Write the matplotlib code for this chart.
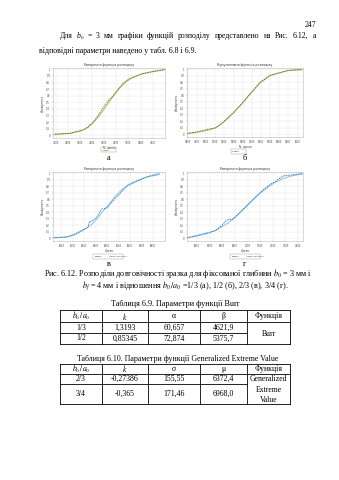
import matplotlib
matplotlib.use("Agg")
import matplotlib.pyplot as plt
from matplotlib.lines import Line2D
from matplotlib.patches import Rectangle

plt.rcParams['font.family'] = ['Liberation Serif', 'DejaVu Serif']
plt.rcParams['mathtext.fontset'] = 'stix'

W, H = 339, 480

# ---- data -------------------------------------------------------------
# panel a: b0/a0 = 1/3 (Burr)
a_emp_x = [4092, 4216, 4271, 4326, 4368, 4409, 4450, 4492, 4533, 4574, 4616, 4657, 4699, 4754, 4809, 4892, 5002]
a_emp_y = [0.02, 0.03, 0.06, 0.08, 0.13, 0.20, 0.30, 0.42, 0.52, 0.60, 0.70, 0.79, 0.85, 0.89, 0.93, 0.96, 1.00]
a_fit_x = [4092, 4216, 4300, 4368, 4420, 4470, 4520, 4570, 4620, 4680, 4740, 4810, 4900, 5002]
a_fit_y = [0.01, 0.03, 0.06, 0.12, 0.21, 0.32, 0.45, 0.58, 0.70, 0.81, 0.88, 0.93, 0.97, 0.99]
a_xticks = [4100, 4200, 4300, 4400, 4500, 4600, 4700, 4800, 4900]
a_xlim = (4078, 5002)

# panel b: b0/a0 = 1/2 (Burr)
b_emp_x = [4790, 4900, 5010, 5100, 5150, 5210, 5300, 5390, 5480, 5590, 5700, 5810, 5900, 6050]
b_emp_y = [0.015, 0.04, 0.075, 0.10, 0.14, 0.22, 0.34, 0.47, 0.62, 0.80, 0.91, 0.95, 0.985, 1.00]
b_fit_x = [4790, 4900, 5010, 5100, 5200, 5300, 5390, 5480, 5590, 5700, 5810, 5900, 6050]
b_fit_y = [0.01, 0.03, 0.06, 0.10, 0.20, 0.33, 0.47, 0.62, 0.79, 0.90, 0.95, 0.98, 0.99]
b_xticks = [4800, 4900, 5000, 5100, 5200, 5300, 5400, 5500, 5600, 5700, 5800, 5900, 6000]
b_xlim = (4790, 6060)

# panel c: b0/a0 = 2/3 (Generalized Extreme Value)
c_emp_x = [5935, 6049, 6107, 6165, 6230, 6245, 6270, 6310, 6350, 6400, 6450, 6510, 6570, 6660, 6750, 6855]
c_emp_y = [0.01, 0.025, 0.06, 0.11, 0.17, 0.26, 0.27, 0.33, 0.45, 0.47, 0.58, 0.69, 0.80, 0.88, 0.95, 1.00]
c_fit_x = [5935, 6049, 6107, 6165, 6223, 6267, 6310, 6368, 6426, 6470, 6528, 6586, 6673, 6760, 6855]
c_fit_y = [0.01, 0.02, 0.05, 0.10, 0.16, 0.22, 0.30, 0.43, 0.55, 0.65, 0.75, 0.83, 0.90, 0.95, 0.98]
c_xticks = [6000, 6100, 6200, 6300, 6400, 6500, 6600, 6700, 6800]
c_xlim = (5927, 6902)

# panel d: b0/a0 = 3/4 (Generalized Extreme Value)
d_emp_x = [6521, 6587, 6692, 6745, 6797, 6830, 6850, 6875, 6902, 6955, 7007, 7086, 7164, 7217, 7282, 7350, 7439]
d_emp_y = [0.01, 0.04, 0.09, 0.12, 0.20, 0.27, 0.29, 0.29, 0.33, 0.43, 0.53, 0.68, 0.81, 0.87, 0.96, 0.975, 1.00]
d_fit_x = [6521, 6587, 6692, 6745, 6797, 6850, 6902, 6955, 7007, 7086, 7164, 7217, 7282, 7350, 7439]
d_fit_y = [0.01, 0.03, 0.08, 0.12, 0.18, 0.24, 0.32, 0.42, 0.52, 0.67, 0.79, 0.86, 0.92, 0.96, 0.99]
d_xticks = [6600, 6700, 6800, 6900, 7000, 7100, 7200, 7300, 7400]
d_xlim = (6521, 7439)

yticks = [0, 0.1, 0.2, 0.3, 0.4, 0.5, 0.6, 0.7, 0.8, 0.9, 1]

# table values
t1_ratio = ["1/3", "1/2"]
t1_k = ["1,3193", "0,85345"]
t1_alpha = ["60,657", "72,874"]
t1_beta = ["4621,9", "5375,7"]

t2_ratio = ["2/3", "3/4"]
t2_k = ["-0,27386", "-0,365"]
t2_sigma = ["155,55", "171,46"]
t2_mu = ["6372,4", "6968,0"]

# ---- helpers ----------------------------------------------------------
fig = plt.figure(figsize=(W / 100, H / 100), dpi=100)
fig.patch.set_facecolor('white')
renderer = fig.canvas.get_renderer()


def fx(x):
    return x / W


def fy(y):
    return 1 - y / H


def ftext(x, y, s, size=6.0, ha='center', va='center', **kw):
    return fig.text(fx(x), fy(y), s, fontsize=size, ha=ha, va=va, **kw)


def justified(x0, x1, y, words, size):
    """Lay out words on one line so that they fill x0..x1 exactly (y = baseline).
    A word given as a (base, subscript) pair is set in italic with a subscript."""
    groups = []
    for w in words:
        if isinstance(w, tuple):
            base = ftext(0, y, w[0], size=size, ha='left', va='baseline', style='italic')
            sub = ftext(0, y + 1.5, w[1], size=size * 0.65, ha='left', va='baseline')
            wb = base.get_window_extent(renderer).width
            ws = sub.get_window_extent(renderer).width
            groups.append(([(base, 0.0), (sub, wb)], wb + ws))
        else:
            t = ftext(0, y, w, size=size, ha='left', va='baseline')
            groups.append(([(t, 0.0)], t.get_window_extent(renderer).width))
    gap = (x1 - x0 - sum(g[1] for g in groups)) / (len(groups) - 1)
    x = x0
    for parts, width in groups:
        for art, off in parts:
            art.set_x(fx(x + off))
        x += width + gap


def hline(y, x0, x1, lw=0.6):
    fig.add_artist(Line2D([fx(x0), fx(x1)], [fy(y), fy(y)], color='black', lw=lw))


def vline(x, y0, y1, lw=0.6):
    fig.add_artist(Line2D([fx(x), fx(x)], [fy(y0), fy(y1)], color='black', lw=lw))


def panel(rect, ex, ey, px, py, xticks, xlim, title, xlabel, c_emp, c_fit, legend_w, legend_c, letter, two_entries):
    l, t, r, b = rect
    ax = fig.add_axes([fx(l), fy(b), (r - l) / W, (b - t) / H])
    ax.plot(px, py, color=c_fit, lw=0.7)
    ax.plot(ex, ey, color=c_emp, lw=0.6, ls=(0, (2, 1)))
    ax.set_xlim(*xlim)
    ax.set_ylim(-0.04, 1.02)
    ax.set_xticks(xticks)
    ax.set_yticks(yticks)
    ax.set_xticklabels([str(v) for v in xticks], fontsize=1.8, family='DejaVu Sans', color='#444444')
    ax.set_yticklabels([f"{v:g}" for v in yticks], fontsize=1.8, family='DejaVu Sans', color='#444444')
    ax.tick_params(length=1, width=0.3, pad=1, colors='#888888', labelcolor='#444444')
    ax.grid(True, color='#e6e6e6', lw=0.3)
    for s in ax.spines.values():
        s.set_color('#bbbbbb')
        s.set_linewidth(0.4)
    ax.set_title(title, fontsize=2.3, family='DejaVu Sans', pad=1.5, color='#333333')
    ax.set_xlabel(xlabel, fontsize=2.0, family='DejaVu Sans', labelpad=0.8, color='#444444')
    ax.set_ylabel("Ймовірність", fontsize=2.0, family='DejaVu Sans', labelpad=1.0, color='#444444')
    # legend box below the axes
    lx, ly = legend_c
    fig.add_artist(Rectangle((fx(lx - legend_w / 2), fy(ly + 2.5)), legend_w / W, 5 / H,
                             fill=False, ec='#999999', lw=0.3))
    if two_entries:
        fig.add_artist(Line2D([fx(lx - legend_w / 2 + 1.5), fx(lx - legend_w / 2 + 4)], [fy(ly), fy(ly)],
                              color=c_emp, lw=0.5))
        ftext(lx - legend_w / 2 + 4.5, ly, "Дані", size=1.6, ha='left', family='DejaVu Sans', color='#444444')
        fig.add_artist(Line2D([fx(lx + 0.5), fx(lx + 3)], [fy(ly), fy(ly)], color=c_fit, lw=0.5))
        ftext(lx + 3.5, ly, "GEV розподіл", size=1.6, ha='left', family='DejaVu Sans', color='#444444')
    else:
        fig.add_artist(Line2D([fx(lx - legend_w / 2 + 1.5), fx(lx - legend_w / 2 + 4)], [fy(ly), fy(ly)],
                              color=c_fit, lw=0.5))
        ftext(lx - legend_w / 2 + 4.5, ly, "Burr", size=1.6, ha='left', family='DejaVu Sans', color='#444444')
    ftext((l + r) / 2, letter[1], letter[0], size=6.0)
    return ax


# ---- page text --------------------------------------------------------
ftext(316, 25, "247", size=5.6, ha='right')
justified(60, 316, 37.5,
          ["Для", ("b", "0"), "=", "3", "мм", "графіки", "функцій", "розподілу", "представлено",
           "на", "Рис.", "6.12,", "а"], size=5.6)
ftext(39, 53, "відповідні параметри наведено у табл. 6.8 і 6.9.", size=5.6, ha='left', va='baseline')

# ---- charts -----------------------------------------------------------
grey, lime = '#666666', '#a8cc3a'
blue, lblue = '#2c7fb8', '#8cc0e0'

panel((53, 68, 165, 138), a_emp_x, a_emp_y, a_fit_x, a_fit_y, a_xticks, a_xlim,
      "Емпірична функція розподілу", "N, цикли", grey, lime, 15, (108, 150), ("а", 158), False)
panel((187, 68, 303, 137), b_emp_x, b_emp_y, b_fit_x, b_fit_y, b_xticks, b_xlim,
      "Кумулятивна функція розподілу", "N, цикли", grey, lime, 15, (238, 151), ("б", 158), False)
panel((53, 172, 165, 241), c_emp_x, c_emp_y, c_fit_x, c_fit_y, c_xticks, c_xlim,
      "Емпірична функція розподілу", "Цикли", blue, lblue, 30, (108, 256), ("в", 264), True)
panel((187, 172, 303, 241), d_emp_x, d_emp_y, d_fit_x, d_fit_y, d_xticks, d_xlim,
      "Емпірична функція розподілу", "Цикли", blue, lblue, 30, (245, 256), ("г", 264), True)

# ---- caption ----------------------------------------------------------
ftext(178, 273, "Рис. 6.12. Розподіли довговічності зразка для фіксованої глибини $b_0$ = 3 мм і",
      size=5.9)
ftext(185, 286, "$b_f$ = 4 мм і відношення $b_0\\,/a_0$ =1/3 (а), 1/2 (б), 2/3 (в), 3/4 (г).", size=5.9)

# ---- tables -----------------------------------------------------------
cols = [60, 102, 148, 200, 247, 290]
centers = [(cols[i] + cols[i + 1]) / 2 for i in range(5)]
tsize = 5.6

# Table 6.9
ftext(175, 304, "Таблиця 6.9. Параметри функції Burr", size=5.9)
rows1 = [310, 322, 333, 344]
hline(rows1[0], cols[0], cols[-1])
hline(rows1[1], cols[0], cols[-1])
hline(rows1[2], cols[0], cols[4])
hline(rows1[3], cols[0], cols[-1])
for c in cols:
    vline(c, rows1[0], rows1[3])
hdr1 = ["$b_0\\,/a_0$", "$k$", "α", "β", "Функція"]
for cx, s in zip(centers, hdr1):
    ftext(cx, (rows1[0] + rows1[1]) / 2, s, size=tsize)
for i in range(2):
    yc = (rows1[i + 1] + rows1[i + 2]) / 2
    for cx, s in zip(centers[:4], [t1_ratio[i], t1_k[i], t1_alpha[i], t1_beta[i]]):
        ftext(cx, yc, s, size=tsize)
ftext(centers[4], (rows1[1] + rows1[3]) / 2 + 1, "Burr", size=tsize)

# Table 6.10
ftext(178, 359, "Таблиця 6.10. Параметри функції Generalized Extreme Value", size=5.7)
rows2 = [364, 374, 384, 404]
hline(rows2[0], cols[0], cols[-1])
hline(rows2[1], cols[0], cols[-1])
hline(rows2[2], cols[0], cols[4])
hline(rows2[3], cols[0], cols[-1])
for c in cols:
    vline(c, rows2[0], rows2[3])
hdr2 = ["$b_0\\,/a_0$", "$k$", "σ", "μ", "Функція"]
for cx, s in zip(centers, hdr2):
    ftext(cx, (rows2[0] + rows2[1]) / 2, s, size=tsize)
for i in range(2):
    yc = (rows2[i + 1] + rows2[i + 2]) / 2
    for cx, s in zip(centers[:4], [t2_ratio[i], t2_k[i], t2_sigma[i], t2_mu[i]]):
        ftext(cx, yc, s, size=tsize)
for j, s in enumerate(["Generalized", "Extreme", "Value"]):
    ftext(centers[4], 379 + 10.5 * j, s, size=tsize)

fig.savefig("out.png", dpi=100, facecolor='white')
